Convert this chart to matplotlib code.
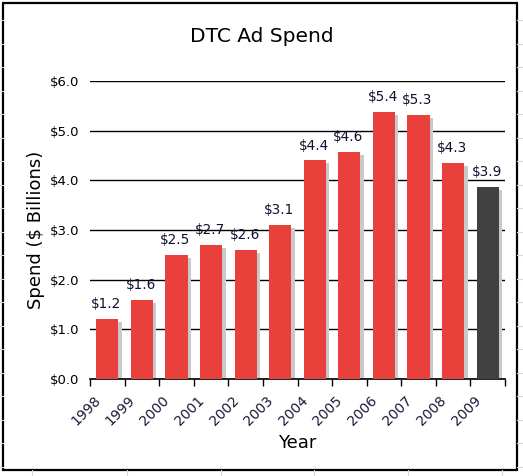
import matplotlib.pyplot as plt
import matplotlib.transforms as mtransforms
import numpy as np
from matplotlib.patches import Rectangle
from matplotlib.lines import Line2D

# data
years = ['1998', '1999', '2000', '2001', '2002', '2003',
         '2004', '2005', '2006', '2007', '2008', '2009']
spend = [1.2, 1.6, 2.5, 2.7, 2.6, 3.1, 4.4, 4.57, 5.38, 5.31, 4.34, 3.86]
yticks = [0, 1, 2, 3, 4, 5, 6]

red = '#ea403b'
dark = '#414141'
shadow = '#c9c9c9'
label_col = '#101030'

fig = plt.figure(figsize=(5.23, 4.76), dpi=100)
fig.patch.set_facecolor('white')

# faint spreadsheet cell lines behind the chart box
for xv in [32, 127, 221, 314, 408, 502]:
    fig.add_artist(Line2D([xv / 523, xv / 523], [0, 6 / 476], color='#d8d8d8', lw=0.8))
for yv in np.arange(20, 476, 23.5):
    fig.add_artist(Line2D([0, 3 / 523], [1 - yv / 476] * 2, color='#d8d8d8', lw=0.8))
    fig.add_artist(Line2D([517 / 523, 1], [1 - yv / 476] * 2, color='#d8d8d8', lw=0.8))

# chart frame
fig.add_artist(Rectangle((3 / 523, 6 / 476), 514 / 523, 467 / 476,
                         transform=fig.transFigure, fill=True, facecolor='white',
                         edgecolor='black', lw=1.6, zorder=0))

ax = fig.add_axes([90 / 523, 1 - 379 / 476, 415 / 523, 298 / 476])
ax.set_facecolor('none')

x = np.arange(len(years))
colors = [red] * (len(years) - 1) + [dark]
w = 0.64

# drop shadow, then the bars
ax.bar(x + 0.1, np.array(spend) - 0.06, width=w, color=shadow, zorder=2)
ax.bar(x, spend, width=w, color=colors, zorder=3)

for xi, v in zip(x, spend):
    ax.text(xi - 0.03, v + 0.16, '$%.1f' % v, ha='center', va='bottom',
            fontsize=9.8, color=label_col, zorder=4)

ax.set_xlim(-0.5, len(years) - 0.5)
ax.set_ylim(0, 6)
ax.set_yticks(yticks)
ax.set_yticklabels(['$%.1f' % t for t in yticks], fontsize=9.5)
ax.yaxis.grid(True, color='black', lw=1)
ax.set_axisbelow(True)
ax.tick_params(axis='y', length=0, pad=8)

ax.set_xticks(x)
ax.set_xticks(np.arange(-0.5, len(years)), minor=True)
ax.tick_params(axis='x', which='major', length=0, pad=8)
ax.tick_params(axis='x', which='minor', length=5, width=1, color='black')
ax.set_xticklabels(years, rotation=45, ha='right', rotation_mode='anchor',
                   fontsize=10, color='#1a1a3a')
# nudge the slanted year labels left, as in the reference
shift = mtransforms.ScaledTranslation(-14 / 100, -3 / 100, fig.dpi_scale_trans)
for lab in ax.get_xticklabels():
    lab.set_transform(lab.get_transform() + shift)

for s in ['top', 'right', 'left']:
    ax.spines[s].set_visible(False)
ax.spines['bottom'].set_linewidth(1.2)

ax.set_xlabel('Year', fontsize=13, labelpad=4)
ax.set_ylabel('Spend ($ Billions)', fontsize=13, labelpad=3)
fig.text(262 / 523, 1 - 37 / 476, 'DTC Ad Spend', ha='center', va='center', fontsize=14.5)

fig.savefig('out.png', dpi=100)
